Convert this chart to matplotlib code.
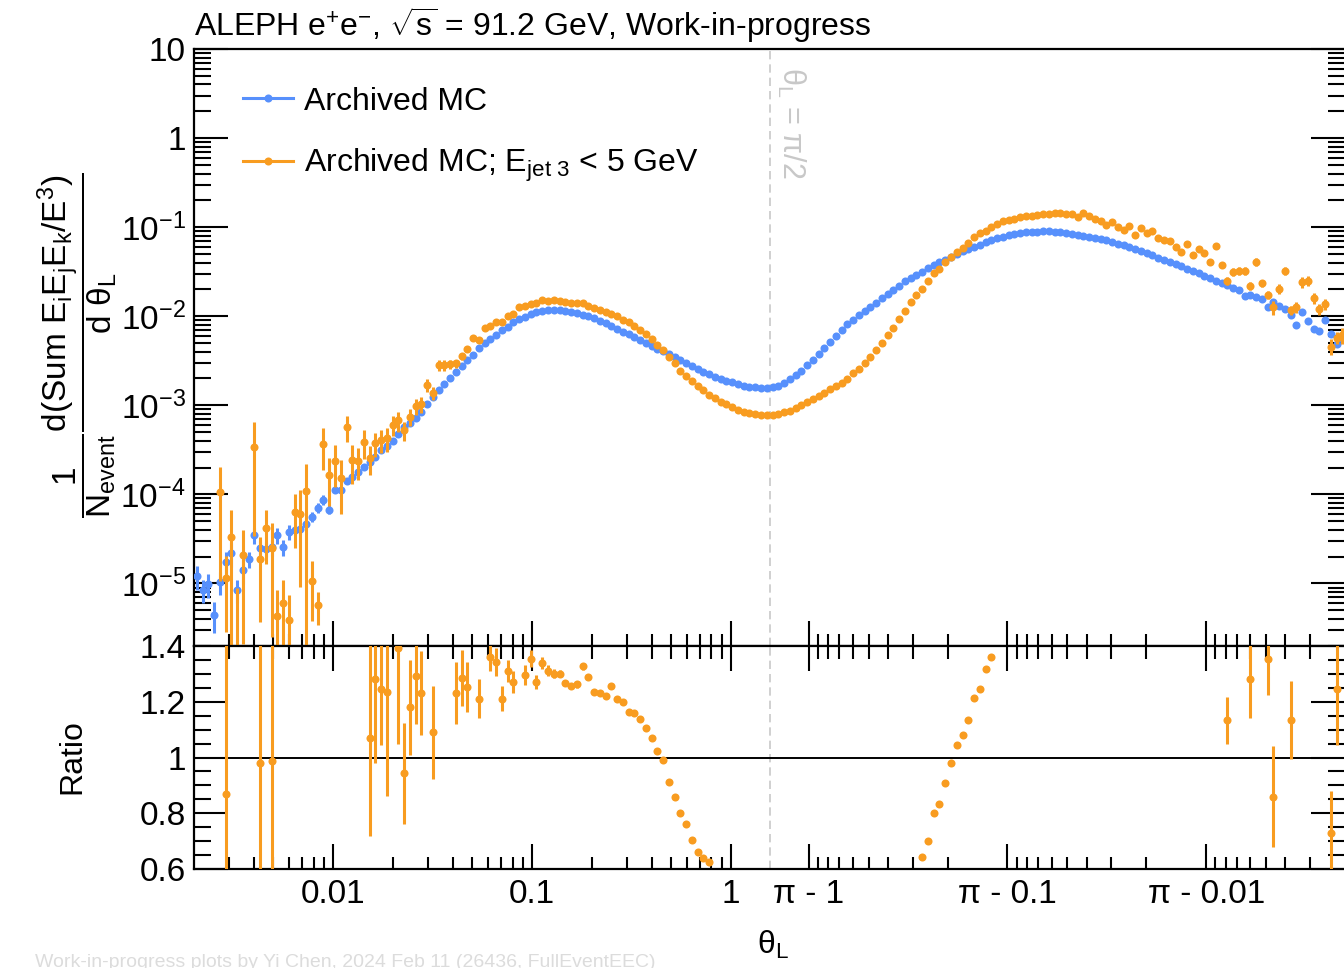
import numpy as np
import matplotlib
matplotlib.use('Agg')
import matplotlib.pyplot as plt
from matplotlib.lines import Line2D
from matplotlib.ticker import (FixedLocator, FixedFormatter, LogLocator,
                               FuncFormatter, MultipleLocator, NullFormatter)

# binning: 100 log bins from 0.002 to pi/2, the right half mirrored as pi - theta
theta_lo = 0.002
n_half = 100

# log10( 1/N dEEEC/dtheta )
blue_left_log = [
    -4.92, -5.07, -5.01, -5.35, -4.98, -4.76, -4.66, -5.07, -4.85, -4.73,
    -4.46, -4.60, -4.61, -4.59, -4.46, -4.59, -4.42, -4.40, -4.39, -4.33,
    -4.25, -4.15, -4.06, -4.17, -3.95, -3.95, -3.85, -3.80, -3.75, -3.69,
    -3.64, -3.58, -3.50, -3.46, -3.40, -3.32, -3.24, -3.20, -3.14, -3.08,
    -2.99, -2.91, -2.83, -2.76, -2.69, -2.63, -2.56, -2.49, -2.43, -2.36,
    -2.30, -2.26, -2.21, -2.16, -2.12, -2.07, -2.03, -2.01, -1.98, -1.955,
    -1.944, -1.935, -1.933, -1.933, -1.941, -1.950, -1.964, -1.983, -2.000, -2.022,
    -2.050, -2.078, -2.106, -2.140, -2.174, -2.202, -2.235, -2.269, -2.303, -2.336,
    -2.364, -2.392, -2.426, -2.459, -2.493, -2.527, -2.560, -2.588, -2.622, -2.650,
    -2.678, -2.700, -2.723, -2.743, -2.762, -2.779, -2.790, -2.799, -2.804, -2.807]
blue_right_log = [
    -2.795, -2.779, -2.751, -2.706, -2.661, -2.611, -2.549, -2.487, -2.420, -2.353,
    -2.286, -2.224, -2.157, -2.090, -2.039, -1.989, -1.944, -1.899, -1.849, -1.798,
    -1.748, -1.703, -1.658, -1.610, -1.569, -1.532, -1.498, -1.462, -1.429, -1.395,
    -1.364, -1.331, -1.300, -1.272, -1.246, -1.221, -1.196, -1.171, -1.148, -1.126,
    -1.107, -1.092, -1.079, -1.068, -1.059, -1.053, -1.050, -1.048, -1.048, -1.051,
    -1.057, -1.064, -1.072, -1.084, -1.096, -1.109, -1.123, -1.135, -1.148, -1.168,
    -1.185, -1.205, -1.227, -1.249, -1.272, -1.294, -1.317, -1.341, -1.367, -1.395,
    -1.417, -1.440, -1.466, -1.490, -1.518, -1.546, -1.574, -1.602, -1.627, -1.653,
    -1.681, -1.709, -1.776, -1.765, -1.787, -1.810, -1.894, -1.843, -1.888, -1.922,
    -1.989, -2.095, -1.952, -2.050, -2.140, -2.168, -2.045, -2.202, -2.314, -2.246]
nan = np.nan
orange_left_log = [
    nan, nan, nan, nan, -3.97, -4.94, -4.48, -5.90, -4.68, nan,
    -3.47, -4.73, -4.38, -4.60, -5.37, -5.22, -5.41, -4.20, -4.22, -3.96,
    -4.97, -5.24, -3.43, -3.78, -3.62, -3.82, -3.24, -3.61, -3.62, -3.41,
    -3.59, -3.42, -3.39, -3.37, -3.22, -3.17, -3.28, -3.13, -3.01, -2.99,
    -2.77, -2.86, -2.55, -2.55, -2.54, -2.53, -2.45, -2.37, -2.25, -2.27,
    -2.13, -2.11, -2.07, -2.06, -2.00, -1.97, -1.90, -1.89, -1.86, -1.85,
    -1.82, -1.83, -1.82, -1.83, -1.84, -1.85, -1.85, -1.85, -1.88, -1.91,
    -1.93, -1.95, -1.97, -2.00, -2.04, -2.07, -2.11, -2.15, -2.20, -2.26,
    -2.32, -2.38, -2.46, -2.53, -2.61, -2.67, -2.73, -2.78, -2.83, -2.88,
    -2.92, -2.96, -2.99, -3.02, -3.05, -3.07, -3.09, -3.10, -3.11, -3.11]
orange_right_log = [
    -3.11, -3.10, -3.08, -3.06, -3.03, -3.00, -2.96, -2.93, -2.90, -2.86,
    -2.82, -2.78, -2.75, -2.70, -2.64, -2.59, -2.53, -2.46, -2.38, -2.30,
    -2.21, -2.13, -2.03, -1.94, -1.84, -1.76, -1.69, -1.61, -1.51, -1.47,
    -1.39, -1.33, -1.28, -1.23, -1.18, -1.11, -1.07, -1.04, -1.00, -0.97,
    -0.93, -0.92, -0.91, -0.89, -0.88, -0.87, -0.86, -0.85, -0.85, -0.84,
    -0.84, -0.85, -0.85, -0.89, -0.84, -0.88, -0.91, -0.93, -0.98, -0.94,
    -1.00, -1.03, -0.99, -1.09, -1.01, -1.07, -1.04, -1.12, -1.14, -1.16,
    -1.22, -1.28, -1.19, -1.31, -1.24, -1.29, -1.39, -1.21, -1.43, -1.60,
    -1.50, -1.49, -1.49, -1.66, -1.39, -1.63, -1.76, -1.90, -1.69, -1.49,
    -1.93, -1.90, -1.62, -1.60, -1.80, -1.92, -1.86, -2.34, -2.24, -2.21]

# relative statistical errors
blue_left_err = [
    0.3, 0.3, 0.3, 0.38, 0.3, 0.3, 0.3, 0.3, 0.3, 0.2,
    0.2, 0.2, 0.2, 0.2, 0.2, 0.2, 0.2, 0.12, 0.12, 0.12,
    0.12, 0.12, 0.12, 0.12, 0.06, 0.06, 0.06, 0.06, 0.06, 0.06,
    0.06, 0.02, 0.02, 0.02, 0.02, 0.02, 0.02, 0.02, 0.02, 0.02,
    0.015, 0.015, 0.015, 0.015, 0.015, 0.015, 0.015, 0.015, 0.015, 0.015,
    0.01, 0.01, 0.01, 0.01, 0.01, 0.01, 0.01, 0.01, 0.01, 0.01,
    0.01, 0.01, 0.01, 0.01, 0.01, 0.01, 0.01, 0.01, 0.01, 0.01,
    0.01, 0.01, 0.01, 0.01, 0.01, 0.01, 0.01, 0.01, 0.01, 0.01,
    0.01, 0.01, 0.01, 0.01, 0.01, 0.01, 0.01, 0.01, 0.01, 0.01,
    0.01, 0.01, 0.01, 0.01, 0.01, 0.01, 0.01, 0.01, 0.01, 0.01]
blue_right_err = [
    0.01, 0.01, 0.01, 0.01, 0.01, 0.01, 0.01, 0.01, 0.01, 0.01,
    0.01, 0.01, 0.01, 0.01, 0.01, 0.01, 0.01, 0.01, 0.01, 0.01,
    0.01, 0.01, 0.01, 0.01, 0.01, 0.01, 0.01, 0.01, 0.01, 0.01,
    0.01, 0.01, 0.01, 0.01, 0.01, 0.01, 0.01, 0.01, 0.01, 0.01,
    0.01, 0.01, 0.01, 0.01, 0.01, 0.01, 0.01, 0.01, 0.01, 0.01,
    0.01, 0.01, 0.01, 0.01, 0.01, 0.01, 0.01, 0.01, 0.01, 0.01,
    0.01, 0.01, 0.01, 0.01, 0.01, 0.01, 0.01, 0.01, 0.01, 0.01,
    0.01, 0.01, 0.01, 0.01, 0.01, 0.01, 0.01, 0.01, 0.01, 0.01,
    0.02, 0.02, 0.03, 0.03, 0.03, 0.03, 0.03, 0.03, 0.03, 0.03,
    0.05, 0.05, 0.05, 0.05, 0.05, 0.05, 0.05, 0.05, 0.05, 0.05]
orange_left_err = [
    0.0, 0.0, 0.0, 0.0, 0.9, 0.75, 1.0, 6.0, 0.9, 0.0,
    0.9, 0.8, 0.6, 0.9, 1.0, 0.8, 0.9, 0.6, 0.85, 1.0,
    0.65, 0.4, 0.5, 0.55, 0.5, 0.6, 0.33, 0.47, 0.4, 0.36,
    0.36, 0.3, 0.28, 0.3, 0.25, 0.25, 0.25, 0.22, 0.2, 0.2,
    0.17, 0.17, 0.13, 0.13, 0.12, 0.1, 0.09, 0.08, 0.07, 0.06,
    0.05, 0.04, 0.04, 0.035, 0.03, 0.03, 0.03, 0.025, 0.025, 0.02,
    0.02, 0.015, 0.015, 0.015, 0.015, 0.015, 0.015, 0.015, 0.015, 0.015,
    0.01, 0.01, 0.01, 0.01, 0.01, 0.01, 0.01, 0.01, 0.01, 0.01,
    0.01, 0.01, 0.01, 0.01, 0.01, 0.01, 0.01, 0.01, 0.01, 0.01,
    0.01, 0.01, 0.01, 0.01, 0.01, 0.01, 0.01, 0.01, 0.01, 0.01]
orange_right_err = [
    0.01, 0.01, 0.01, 0.01, 0.01, 0.01, 0.01, 0.01, 0.01, 0.01,
    0.01, 0.01, 0.01, 0.01, 0.01, 0.01, 0.01, 0.01, 0.01, 0.01,
    0.01, 0.01, 0.01, 0.01, 0.01, 0.01, 0.01, 0.01, 0.01, 0.01,
    0.01, 0.01, 0.01, 0.01, 0.01, 0.01, 0.01, 0.01, 0.01, 0.01,
    0.01, 0.01, 0.01, 0.01, 0.01, 0.01, 0.01, 0.01, 0.01, 0.01,
    0.01, 0.01, 0.01, 0.01, 0.01, 0.01, 0.01, 0.01, 0.01, 0.01,
    0.025, 0.025, 0.025, 0.025, 0.025, 0.025, 0.025, 0.025, 0.025, 0.025,
    0.05, 0.05, 0.05, 0.05, 0.05, 0.05, 0.05, 0.05, 0.05, 0.1,
    0.1, 0.1, 0.1, 0.1, 0.1, 0.1, 0.1, 0.19, 0.12, 0.1,
    0.12, 0.14, 0.14, 0.14, 0.14, 0.14, 0.14, 0.2, 0.16, 0.2]

# ratio panel points (bin index in each half, value, error)
ratio_left_bins = [5, 11, 13, 30, 31, 32, 33, 35, 36, 37, 38, 39, 41, 45, 46, 47, 49,
                   51, 52, 53, 54, 55, 57, 58, 59, 60, 61, 62, 63, 64, 65, 66, 67, 68,
                   69, 70, 71, 72, 73, 74, 75, 76, 77, 78, 79, 80, 81, 82, 83, 84, 85,
                   86, 87, 88, 89]
ratio_left_vals = [0.871, 0.979, 0.988, 1.07, 1.282, 1.246, 1.234, 1.39, 0.943, 1.18,
                   1.29, 1.23, 1.09, 1.23, 1.286, 1.252, 1.21, 1.36, 1.34, 1.21, 1.31,
                   1.27, 1.296, 1.354, 1.27, 1.338, 1.31, 1.30, 1.30, 1.267, 1.256,
                   1.262, 1.326, 1.288, 1.234, 1.232, 1.22, 1.255, 1.21, 1.20, 1.163,
                   1.16, 1.136, 1.104, 1.068, 1.024, 0.99, 0.913, 0.859, 0.802, 0.761,
                   0.705, 0.663, 0.639, 0.627]
ratio_left_errs = [0.9, 0.9, 0.9, 0.35, 0.3, 0.2, 0.37, 0.34, 0.18, 0.17, 0.17, 0.15,
                   0.167, 0.11, 0.1, 0.09, 0.07, 0.05, 0.05, 0.045, 0.04, 0.04, 0.035,
                   0.03, 0.025, 0.02, 0.02, 0.015, 0.012, 0.012, 0.012, 0.012, 0.012,
                   0.012, 0.01, 0.01, 0.01, 0.01, 0.01, 0.01, 0.01, 0.01, 0.01, 0.01,
                   0.01, 0.01, 0.01, 0.01, 0.01, 0.01, 0.01, 0.01, 0.01, 0.01, 0.01]
ratio_right_bins = [26, 27, 28, 29, 30, 31, 32, 33, 34, 35, 36, 37, 38, 79, 83, 86, 87,
                    90, 97, 98]
ratio_right_vals = [0.643, 0.70, 0.802, 0.833, 0.907, 0.979, 1.044, 1.08, 1.133, 1.213,
                    1.246, 1.318, 1.36, 1.133, 1.282, 1.354, 0.86, 1.133, 0.729, 1.246]
ratio_right_errs = [0.01, 0.01, 0.01, 0.01, 0.01, 0.01, 0.01, 0.01, 0.01, 0.01, 0.01,
                    0.01, 0.01, 0.085, 0.14, 0.13, 0.18, 0.14, 0.15, 0.2]

blue_c = '#5790fc'
orange_c = '#f89c20'
labels = ['Archived MC', r'Archived MC; E$_{\mathrm{jet\ 3}}$ < 5 GeV']

plt.rcParams['font.family'] = ['Liberation Sans', 'DejaVu Sans']
plt.rcParams['mathtext.fontset'] = 'custom'
plt.rcParams['mathtext.rm'] = 'Liberation Sans'
plt.rcParams['mathtext.it'] = 'Liberation Sans:italic'
plt.rcParams['mathtext.bf'] = 'Liberation Sans:bold'

HALF = np.pi / 2
LOGH = np.log10(HALF)
MS = 5.8


# log(theta) below pi/2, mirrored log(pi - theta) above
def fwd(t):
    t = np.asarray(t, dtype=float)
    with np.errstate(divide='ignore', invalid='ignore'):
        return np.where(t <= HALF, np.log10(t), 2 * LOGH - np.log10(np.pi - t))


def inv(u):
    u = np.asarray(u, dtype=float)
    with np.errstate(over='ignore', invalid='ignore'):
        return np.where(u <= LOGH, 10.0 ** u, np.pi - 10.0 ** (2 * LOGH - u))


edges = np.geomspace(theta_lo, HALF, n_half + 1)
theta_left = np.sqrt(edges[:-1] * edges[1:])
theta_right = np.pi - theta_left[::-1]
theta = np.concatenate([theta_left, theta_right])

blue = 10.0 ** np.array(blue_left_log + blue_right_log)
orange = 10.0 ** np.array(orange_left_log + orange_right_log)
blue_err = blue * np.array(blue_left_err + blue_right_err)
orange_err = orange * np.array(orange_left_err + orange_right_err)

r_theta = np.concatenate([theta_left[ratio_left_bins], theta_right[ratio_right_bins]])
r_vals = np.array(ratio_left_vals + ratio_right_vals)
r_errs = np.array(ratio_left_errs + ratio_right_errs)

fig = plt.figure(figsize=(13.44, 9.68), dpi=100)
ax = fig.add_axes([0.1443, 0.33295, 0.8567, 0.61643])
rax = fig.add_axes([0.1443, 0.10196, 0.8567, 0.23099])

# tick positions on the folded axis
major_x = [0.01, 0.1, 1.0, np.pi - 1.0, np.pi - 0.1, np.pi - 0.01]
major_lab = ['0.01', '0.1', '1', 'π - 1', 'π - 0.1', 'π - 0.01']
minor_x = []
for e in (-3, -2, -1, 0):
    for k in range(2, 10):
        v = k * 10.0 ** e
        if theta_lo < v < HALF:
            minor_x += [v, np.pi - v]

for a in (ax, rax):
    a.set_xscale('function', functions=(fwd, inv))
    a.set_xlim(theta_lo, np.pi - theta_lo)
    a.xaxis.set_major_locator(FixedLocator(major_x))
    a.xaxis.set_minor_locator(FixedLocator(minor_x))
    a.xaxis.set_minor_formatter(NullFormatter())
    a.axvline(HALF, color='#c8c8c8', lw=1.2, ls=(0, (5, 3)), zorder=1)
    for s in a.spines.values():
        s.set_linewidth(1.6)
    a.tick_params(which='both', direction='in', width=1.5, labelsize=24,
                  left=True, right=True)
    a.tick_params(axis='y', which='major', length=24.5, pad=6)
    a.tick_params(axis='y', which='minor', length=12)
    a.tick_params(axis='x', which='major', length=18, pad=7)
    a.tick_params(axis='x', which='minor', length=9)

ax.tick_params(axis='x', which='both', top=False, labelbottom=False)
rax.tick_params(axis='x', which='both', top=True, bottom=True)
rax.xaxis.set_major_formatter(FixedFormatter(major_lab))

# main panel
ax.set_yscale('log', nonpositive='clip')
ax.set_ylim(2e-6, 10)
ax.yaxis.set_major_locator(LogLocator(base=10, numticks=20))
ax.yaxis.set_minor_locator(LogLocator(base=10, subs=np.arange(2, 10), numticks=20))
ax.yaxis.set_minor_formatter(NullFormatter())


def yfmt(v, pos):
    e = int(round(np.log10(v)))
    if e == 1:
        return '10'
    if e == 0:
        return '1'
    return r'$10^{%d}$' % e


ax.yaxis.set_major_formatter(FuncFormatter(yfmt))

ax.errorbar(theta, blue, yerr=blue_err, fmt='o', color=blue_c, ms=MS, mew=0,
            elinewidth=2.2, capsize=0, zorder=3)
ax.errorbar(theta, orange, yerr=orange_err, fmt='o', color=orange_c, ms=MS, mew=0,
            elinewidth=2.2, capsize=0, zorder=4)

handles = [Line2D([], [], color=blue_c, lw=2.2, marker='o', ms=MS, mew=0),
           Line2D([], [], color=orange_c, lw=2.2, marker='o', ms=MS, mew=0)]
ax.legend(handles, labels, loc='upper left', bbox_to_anchor=(0.0426, 0.937),
          frameon=False, fontsize=23, handlelength=1.56, handletextpad=0.35,
          labelspacing=0.95, borderpad=0, borderaxespad=0)

ax.annotate(r'θ$_{\mathrm{L}}$ = π/2', xy=(HALF, 1), xycoords=('data', 'axes fraction'),
            xytext=(3.6, -13), textcoords='offset points', rotation=-90,
            ha='left', va='top', color='#c8c8c8', fontsize=22)

# ratio panel
rax.set_ylim(0.6, 1.4)
rax.yaxis.set_major_locator(FixedLocator([0.6, 0.8, 1.0, 1.2, 1.4]))
rax.yaxis.set_major_formatter(FixedFormatter(['0.6', '0.8', '1', '1.2', '1.4']))
rax.yaxis.set_minor_locator(MultipleLocator(0.05))
rax.axhline(1.0, color='black', lw=1.4, zorder=2)
rax.errorbar(r_theta, r_vals, yerr=r_errs, fmt='o', color=orange_c, ms=MS, mew=0,
             elinewidth=2.2, capsize=0, zorder=4)

# labels
fig.text(194 / 1344, 1 - 36 / 968,
         r'ALEPH e$^{+}$e$^{-}$, $\sqrt{\mathrm{s}}$ = 91.2 GeV, Work-in-progress',
         fontsize=23, va='baseline', ha='left')
fig.text(78 / 1344, 1 - 345 / 968,
         r'$\dfrac{1}{\mathrm{N_{event}}}\dfrac{\mathrm{d(Sum\ E_{i}E_{j}E_{k}/E^{3})}}'
         r'{\mathrm{d\ θ_{L}}}$',
         fontsize=24, rotation=90, ha='center', va='center')
fig.text(72 / 1344, 1 - 757 / 968, 'Ratio', fontsize=23, rotation=90,
         ha='center', va='center')
fig.text(773 / 1344, 1 - 945 / 968, r'θ$_{\mathrm{L}}$', fontsize=23,
         ha='center', va='center')
fig.text(35 / 1344, 1 - 967 / 968,
         'Work-in-progress plots by Yi Chen, 2024 Feb 11 (26436, FullEventEEC)',
         fontsize=14, color='#dcdcdc', ha='left', va='baseline')

fig.savefig('out.png', dpi=100)
